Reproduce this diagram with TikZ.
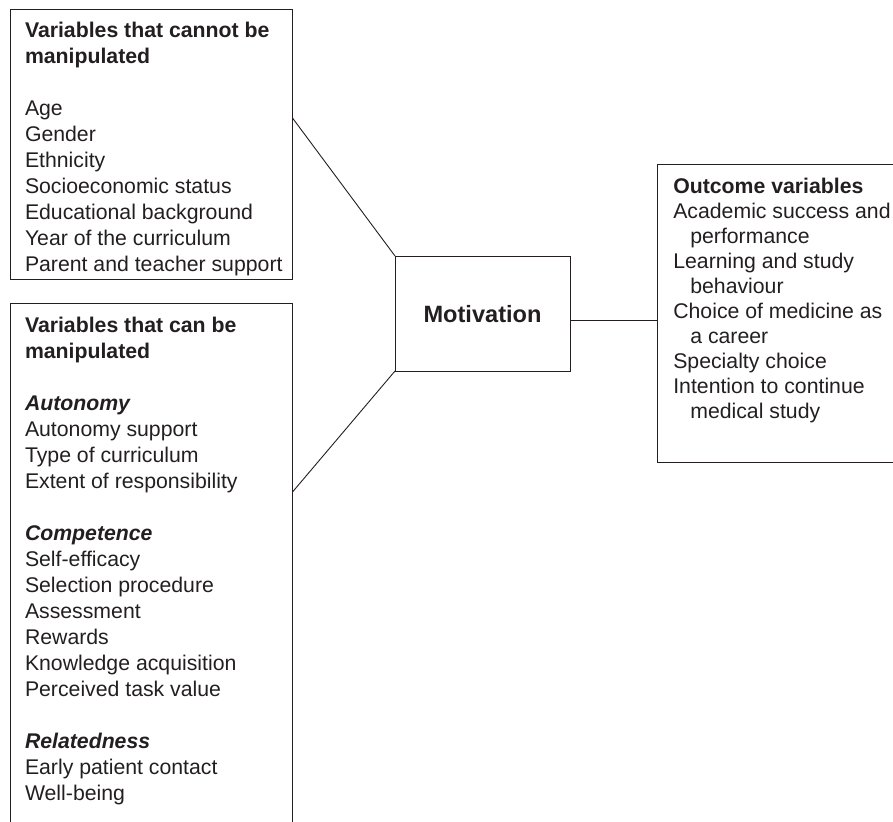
\documentclass[tikz,border=0pt]{standalone}
\usepackage{fontspec}
\setmainfont{Liberation Sans}
\usetikzlibrary{calc}
\definecolor{ink}{HTML}{231F20}
\tikzset{
  frame/.style={draw=ink, line width=0.9pt, rectangle, inner sep=0pt, outer sep=0pt, anchor=north west},
  listtext/.style={anchor=base west, inner sep=0pt, outer sep=0pt, text=ink,
    font=\fontsize{21.25pt}{26pt}\selectfont},
  link/.style={draw=ink, line width=0.9pt}
}
\newcommand{\hd}[1]{\textbf{#1}}
\newcommand{\sub}[1]{\textbf{\textit{#1}}}
\newcommand{\ind}{\hspace*{17pt}}
\begin{document}
\begin{tikzpicture}[x=1pt, y=-1pt]
\useasboundingbox (0,0) rectangle (893,821);

% boxes
\node[frame, minimum width=282.5pt, minimum height=270pt] (fixed) at (10,9) {};
\node[frame, minimum width=282.5pt, minimum height=540pt] (flex) at (10,303) {};
\node[frame, minimum width=175pt, minimum height=115pt] (mot) at (395,256) {};
\node[frame, minimum width=250pt, minimum height=298pt] (out) at (657,164) {};

% box contents
\node[listtext] (fixedtxt) at (25,38) {\parbox[t]{265pt}{%
\hd{Variables that cannot be}\\
\hd{manipulated}\\[26pt]
Age\\
Gender\\
Ethnicity\\
Socioeconomic status\\
Educational background\\
Year of the curriculum\\
Parent and teacher support}};

\node[listtext] (flextxt) at (25,332.7) {\parbox[t]{265pt}{%
\hd{Variables that can be}\\
\hd{manipulated}\\[26pt]
\sub{Autonomy}\\
Autonomy support\\
Type of curriculum\\
Extent of responsibility\\[26pt]
\sub{Competence}\\
Self-efficacy\\
Selection procedure\\
Assessment\\
Rewards\\
Knowledge acquisition\\
Perceived task value\\[26pt]
\sub{Relatedness}\\
Early patient contact\\
Well-being}};

\node[listtext, font=\fontsize{21.25pt}{25pt}\selectfont] (outtxt) at (673.3,193.3) {\parbox[t]{230pt}{%
\hd{Outcome variables}\\
Academic success and\\
\ind performance\\
Learning and study\\
\ind behaviour\\
Choice of medicine as\\
\ind a career\\
Specialty choice\\
Intention to continue\\
\ind medical study}};

\node[anchor=base, inner sep=0pt, text=ink, font=\fontsize{23.6pt}{28pt}\selectfont\bfseries]
  (mottxt) at (482.5,322.7) {Motivation};

% connectors
\coordinate (fixedport) at ([yshift=-109pt]fixed.north east);
\coordinate (flexport) at ([yshift=-189pt]flex.north east);
\coordinate (motport) at ([yshift=-6.5pt]mot.east);
\draw[link] (fixedport) -- (mot.north west);
\draw[link] (flexport) -- (mot.south west);
\draw[link] (motport) -- (motport -| out.west);
\end{tikzpicture}
\end{document}
